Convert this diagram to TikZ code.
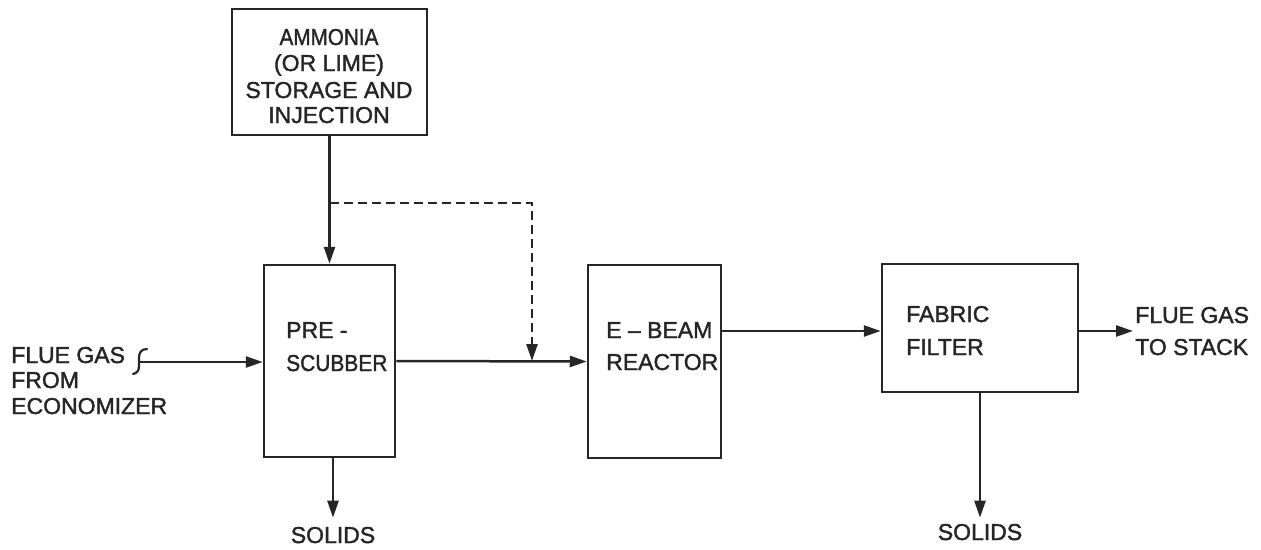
\documentclass[tikz,border=0pt]{standalone}
\usepackage{fontspec}
\newfontfamily\lettering{Liberation Sans}[FakeBold=1.6,Ligatures=TeX]
\usetikzlibrary{arrows.meta,calc}
\definecolor{ink}{HTML}{262626}
\begin{document}
\begin{tikzpicture}[x=1pt,y=-1pt,
  line width=2.5pt, draw=ink,
  box/.style={draw=ink, line width=2.5pt, rectangle, inner sep=0pt},
  lbl/.style={text=ink, inner sep=0pt, font=\lettering\fontsize{23}{26}\selectfont},
  arr/.style={draw=ink, line width=2.5pt, -{Triangle[length=17pt,width=11pt]}},
  darr/.style={arr, dash pattern=on 9pt off 5pt},
]
\useasboundingbox[fill=white] (0,0) rectangle (1261,549);

% boxes
\node[box, minimum width=195pt, minimum height=126pt] (amm) at (329.5,72) {};
\node[box, minimum width=131pt, minimum height=192pt] (pre) at (329.5,361) {};
\node[box, minimum width=133pt, minimum height=193pt] (ebeam) at (654.5,361.5) {};
\node[box, minimum width=196pt, minimum height=128pt] (fab) at (980,328) {};

% texts
\node[lbl, anchor=base] (a1) at (329,45) {\scalebox{0.9}[1]{AMMONIA}};
\node[lbl, anchor=base] (a2) at (329,71) {(OR LIME)};
\node[lbl, anchor=base] (a3) at (329,98) {STORAGE AND};
\node[lbl, anchor=base] (a4) at (329,123) {INJECTION};

\node[lbl, anchor=base west] (p1) at (285,338) {PRE -};
\node[lbl, anchor=base west] (p2) at (285,371) {\scalebox{0.91}[1]{SCUBBER}};

\node[lbl, anchor=base west] (e1) at (605,338) {E – BEAM};
\node[lbl, anchor=base west] (e2) at (605,370) {REACTOR};

\node[lbl, anchor=base west] (f1) at (905,322) {FABRIC};
\node[lbl, anchor=base west] (f2) at (905,355) {FILTER};

\node[lbl, anchor=base west] (o1) at (1134,323) {FLUE GAS};
\node[lbl, anchor=base west] (o2) at (1134,355) {TO STACK};

\node[lbl, anchor=base west] (i1) at (10,363) {FLUE GAS};
\node[lbl, anchor=base west] (i2) at (10,388) {FROM};
\node[lbl, anchor=base west] (i3) at (10,414) {ECONOMIZER};

\node[lbl, anchor=base] (s1) at (333,543) {SOLIDS};
\node[lbl, anchor=base] (s2) at (980,540) {SOLIDS};

% helper coordinates
\coordinate (lvl) at (0,331);
\coordinate (brk) at (139,362);
\coordinate (dstart) at (329.5,203);
\coordinate (dcorner) at (532,203);
\coordinate (dend) at (532,361);
\coordinate (otip) at (1133,331);
\coordinate (pbot) at (333,0);

% connectors
\draw[arr] (amm.south) -- (pre.north);
\draw[darr] (dstart) -- (dcorner) -- (dend);
\draw[line width=2.2pt, line cap=round] (147,349) .. controls (141,349) and (139,353) .. (139,358)
   -- (139,366) .. controls (139,371) and (137,373) .. (133,374);
\draw[arr] (brk) -- (pre.west |- brk);
\draw[arr] (pre.east) -- (ebeam.west);
\draw[arr] (ebeam.east |- lvl) -- (fab.west |- lvl);
\draw[arr] (fab.east |- lvl) -- (otip);
\draw[arr] (pbot |- pre.south) -- ($(pbot |- s1.north)+(0,-8)$);
\draw[arr] (fab.south) -- ($(fab.south |- s2.north)+(0,-5)$);
\end{tikzpicture}
\end{document}
